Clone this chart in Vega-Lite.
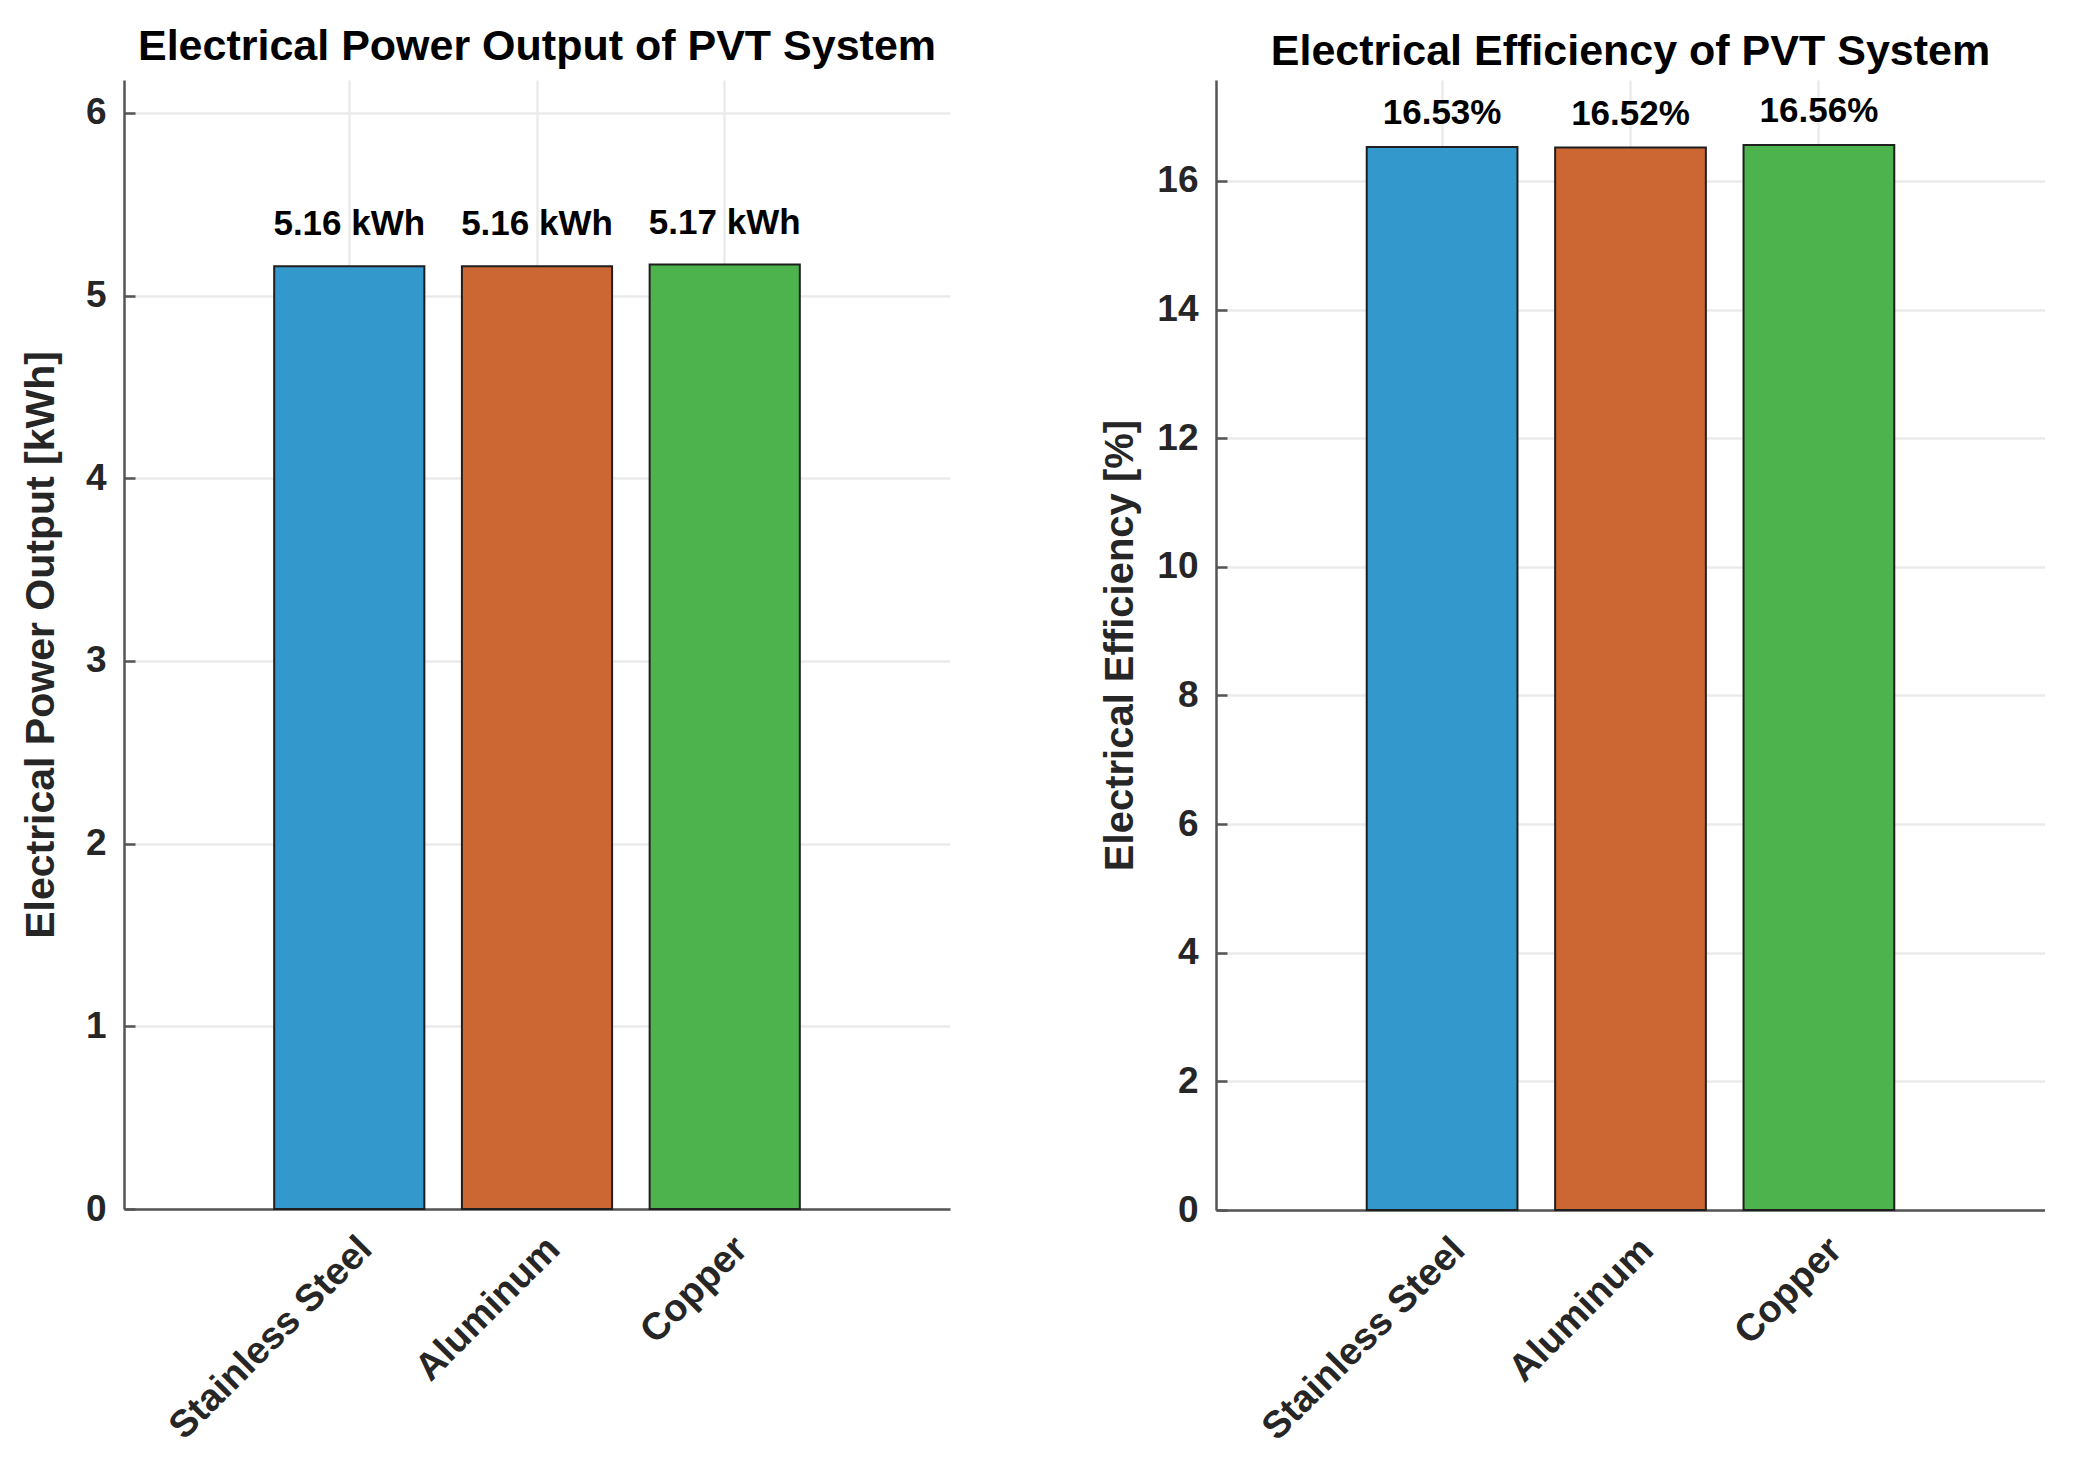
{
  "$schema": "https://vega.github.io/schema/vega-lite/v6.json",
  "background": "white",
  "padding": {"left": 20, "top": 26, "right": 0, "bottom": 0},
  "datasets": {
    "pvt": [
      {"material": "Stainless Steel", "power": 5.16, "power_label": "5.16 kWh", "efficiency": 16.53, "efficiency_label": "16.53%"},
      {"material": "Aluminum", "power": 5.16, "power_label": "5.16 kWh", "efficiency": 16.52, "efficiency_label": "16.52%"},
      {"material": "Copper", "power": 5.17, "power_label": "5.17 kWh", "efficiency": 16.56, "efficiency_label": "16.56%"}
    ]
  },
  "data": {"name": "pvt"},
  "spacing": 150,
  "hconcat": [
    {
      "width": 826,
      "height": 1129,
      "title": {"text": "Electrical Power Output of PVT System", "offset": 11},
      "encoding": {
        "x": {
          "field": "material",
          "type": "nominal",
          "sort": ["Stainless Steel", "Aluminum", "Copper"],
          "scale": {"paddingInner": 0.2, "paddingOuter": 0.8},
          "axis": {"title": null, "labelAngle": -45, "labelAlign": "right", "labelBaseline": "middle", "labelFontSize": 38, "labelPadding": 34, "labelOffset": 17, "labelLimit": 0, "ticks": false, "grid": true, "bandPosition": 0.5}
        },
        "y": {
          "field": "power",
          "type": "quantitative",
          "scale": {"domain": [0, 6.18], "nice": false},
          "axis": {"title": "Electrical Power Output [kWh]", "titleFontSize": 41, "values": [0, 1, 2, 3, 4, 5, 6], "titlePadding": 23, "tickSize": -11, "labelPadding": 29}
        }
      },
      "layer": [
        {
          "mark": {"type": "bar", "stroke": "#1f1f1f", "strokeWidth": 2},
          "encoding": {
            "color": {"field": "material", "type": "nominal", "scale": {"domain": ["Stainless Steel", "Aluminum", "Copper"], "range": ["#3398cc", "#cc6633", "#4db34d"]}, "legend": null}
          }
        },
        {
          "mark": {"type": "text", "baseline": "alphabetic", "dy": -31, "fontSize": 35, "fontWeight": "bold", "color": "#000000"},
          "encoding": {"text": {"field": "power_label"}}
        }
      ]
    },
    {
      "width": 829,
      "height": 1130,
      "title": {"text": "Electrical Efficiency of PVT System", "offset": 11, "dy": 5},
      "encoding": {
        "x": {
          "field": "material",
          "type": "nominal",
          "sort": ["Stainless Steel", "Aluminum", "Copper"],
          "scale": {"paddingInner": 0.2, "paddingOuter": 0.8},
          "axis": {"title": null, "labelAngle": -45, "labelAlign": "right", "labelBaseline": "middle", "labelFontSize": 38, "labelPadding": 34, "labelOffset": 17, "labelLimit": 0, "ticks": false, "grid": true, "bandPosition": 0.5}
        },
        "y": {
          "field": "efficiency",
          "type": "quantitative",
          "scale": {"domain": [0, 17.57], "nice": false},
          "axis": {"title": "Electrical Efficiency [%]", "titleFontSize": 40, "values": [0, 2, 4, 6, 8, 10, 12, 14, 16], "titlePadding": 16, "tickSize": -11, "labelPadding": 29}
        }
      },
      "layer": [
        {
          "mark": {"type": "bar", "stroke": "#1f1f1f", "strokeWidth": 2},
          "encoding": {
            "color": {"field": "material", "type": "nominal", "scale": {"domain": ["Stainless Steel", "Aluminum", "Copper"], "range": ["#3398cc", "#cc6633", "#4db34d"]}, "legend": null}
          }
        },
        {
          "mark": {"type": "text", "baseline": "alphabetic", "dy": -23, "fontSize": 35, "fontWeight": "bold", "color": "#000000"},
          "encoding": {"text": {"field": "efficiency_label"}}
        }
      ]
    }
  ],
  "config": {
    "font": "Liberation Sans",
    "view": {"stroke": null},
    "title": {"font": "Liberation Sans", "fontSize": 43, "fontWeight": "bold", "color": "#000000", "baseline": "alphabetic", "anchor": "middle"},
    "axis": {
      "labelFont": "Liberation Sans",
      "labelFontSize": 37,
      "labelFontWeight": "bold",
      "labelColor": "#262626",
      "titleFont": "Liberation Sans",
      "titleFontSize": 42,
      "titleFontWeight": "bold",
      "titleColor": "#262626",
      "domainColor": "#555555",
      "domainWidth": 2.5,
      "tickColor": "#555555",
      "tickWidth": 2.5,
      "gridColor": "#ebebeb",
      "gridWidth": 2.5
    }
  }
}
